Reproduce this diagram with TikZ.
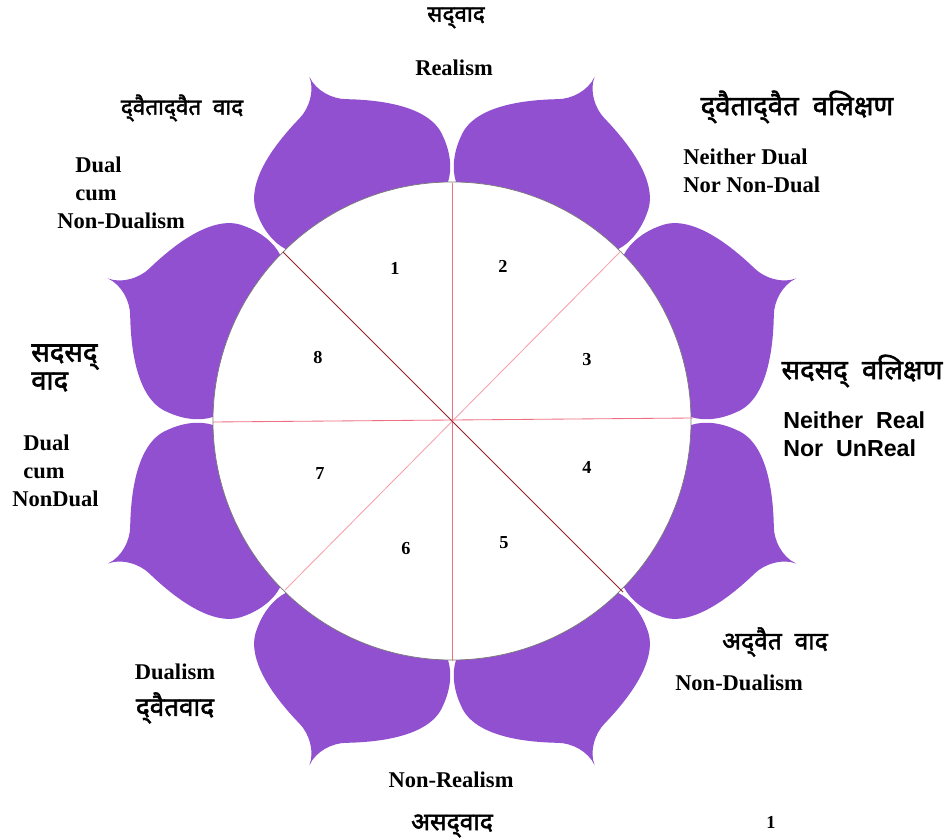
\documentclass[tikz,border=0pt]{standalone}
\usepackage{fontspec}
\setmainfont{Liberation Serif}
\newfontfamily\devafont[Script=Devanagari,FakeBold=2]{Noto Sans}
\newfontfamily\arialfont{Liberation Sans}
\usetikzlibrary{positioning}
\definecolor{lotus}{RGB}{145,80,208}
\definecolor{rimgray}{RGB}{120,120,120}
\definecolor{spokepink}{RGB}{240,110,130}
\definecolor{spokelight}{RGB}{248,160,170}
\definecolor{spokedark}{RGB}{150,35,40}
\tikzset{
  petal/.style={fill=lotus},
  rim/.style={fill=white,draw=rimgray,line width=0.5pt},
  eng/.style={font=\fontsize{16}{20}\selectfont\bfseries,inner sep=0pt,align=left},
  deva/.style={font=\devafont\fontsize{#1}{20}\selectfont,inner sep=0pt,align=left},
  deva/.default=16,
  sans/.style={font=\arialfont\fontsize{16.5}{20}\selectfont\bfseries,inner sep=0pt,align=left},
  num/.style={font=\fontsize{13}{15}\selectfont\bfseries,inner sep=0pt},
  spoke/.style={line width=0.6pt},
}

\begin{document}
\begin{tikzpicture}[x=0.025cm,y=0.025cm]
\useasboundingbox (-452,-418) rectangle (492,421);
% eight petals round the disc
\foreach \ang in {22.5,67.5,...,337.5}
  \fill[petal,rotate=\ang-90] (0,0) -- (87.7,222.3)
    .. controls (97,233) and (101.5,250) .. (100.6,266.8)
    .. controls (100.6,300) and (55,325) .. (25,338)
    .. controls (13,343.2) and (0.5,357) .. (0,372.5)
    .. controls (-0.5,357) and (-13,343.2) .. (-25,338)
    .. controls (-55,325) and (-100.6,300) .. (-100.6,266.8)
    .. controls (-101.5,250) and (-97,233) .. (-87.7,222.3) -- cycle;
\fill[rim] (0,0) circle[radius=239];
% rim points
\coordinate (rimN) at (0,238);
\coordinate (rimS) at (0,-240);
\coordinate (rimW) at (-239,-1);
\coordinate (rimE) at (241,3);
\coordinate (rimNE) at (168,169);
\coordinate (rimSW) at (-167,-169);
\coordinate (rimNW) at (-169,169);
\coordinate (rimSE) at (171,-171);
\draw[spoke,spokepink] (rimN) -- (rimS);
\draw[spoke,spokepink] (rimW) -- (rimE);
\draw[spoke,spokelight] (rimNE) -- (rimSW);
\draw[spoke,spokedark] (rimNW) -- (rimSE);
% sector numbers
\foreach \n/\px/\py in {1/-57/153,2/51/155,3/135/61,4/135/-46,5/52/-122,6/-46/-128,7/-132/-53,8/-134/63}
  \node[num] (sec\n) at (\px,\py) {\n};
% labels
\node[deva] (sat) at (4,403) {सद्^^^^200cवाद};
\node[eng] (real) at (2,353) {Realism};
\node[deva] (dvd) at (-270,313) {द्^^^^200cवैताद्^^^^200cवैत\ \ वाद};
\node[eng,anchor=west] (dcnd) at (-395,228) {\hspace*{0.45cm}Dual\\\hspace*{0.45cm}cum\\Non-Dualism};
\node[deva=19.5] (dvv) at (345,314) {द्^^^^200cवैताद्^^^^200cवैत\ \ वलिक्षण};
\node[eng,anchor=west] (ndnn) at (231,250) {Neither Dual\\Nor Non-Dual};
\node[deva=19.5] (ssv) at (410,50) {सदसद्\ \ वलिक्षण};
\node[sans,anchor=west] (nrnu) at (331,-13) {Neither\ \ Real\\Nor\ \ UnReal};
\node[deva=19.5,anchor=west] (ssvd) at (-421,53) {सदसद्\\वाद};
\node[eng,anchor=west] (dcn) at (-440,-50) {\hspace*{0.275cm}Dual\\\hspace*{0.275cm}cum\\NonDual};
\node[eng] (dual) at (-277,-251) {Dualism};
\node[deva=18.5] (dvt) at (-277,-287) {द्^^^^200cवैतवाद};
\node[deva=17.5] (adv) at (323,-221) {अद्^^^^200cवैत\ \ वाद};
\node[eng] (nondual) at (287,-262) {Non-Dualism};
\node[eng] (nonreal) at (-1,-359) {Non-Realism};
\node[deva=17.5] (asat) at (0,-405) {असद्^^^^200cवाद};
\node[num] (pg) at (319,-401) {1};
\end{tikzpicture}
\end{document}
